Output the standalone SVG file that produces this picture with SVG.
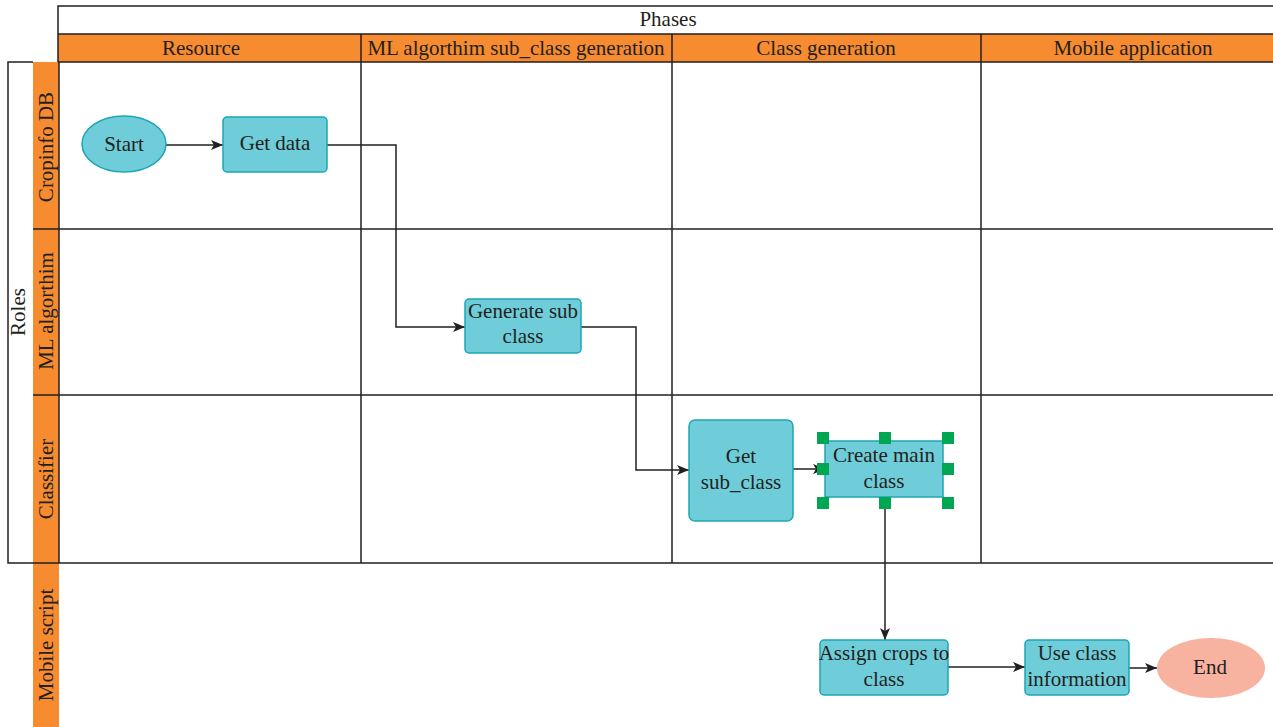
<svg xmlns="http://www.w3.org/2000/svg" width="1273" height="727" viewBox="0 0 1273 727">
<style>
.t{font-family:"Liberation Serif","DejaVu Serif",serif;font-size:21px;fill:#231f20;text-anchor:middle}
.hdr{fill:#f68b2f}
.ln{stroke:#231f20;stroke-width:1.5;fill:none}
.box{fill:#6ecdd9;stroke:#1ba7b5;stroke-width:1.5}
.end{fill:#f8b2a0;stroke:none}
.conn{stroke:#231f20;stroke-width:1.5;fill:none;marker-end:url(#arr)}
.h{fill:#00a651}
</style>
<defs>
<marker id="arr" viewBox="0 0 12 10" refX="12" refY="5" markerWidth="12" markerHeight="10" markerUnits="userSpaceOnUse" orient="auto">
<path d="M0,0 L12,5 L0,10 L3,5 Z" fill="#231f20"/>
</marker>
</defs>
<rect width="1273" height="727" fill="#fff"/>
<g id="frame">
<rect class="hdr" x="58" y="34" width="1215" height="28"/>
<rect class="hdr" x="33" y="62" width="26" height="665"/>
<path class="ln" d="M1273,6 H58 V62"/>
<path class="ln" d="M58,34 H1273 M58,62 H1273"/>
<path class="ln" d="M361,34 V563 M672,34 V563 M981,34 V563"/>
<path class="ln" d="M33,62 H8 V563 H1273"/>
<path class="ln" d="M33,229 H1273 M33,395 H1273"/>
<path class="ln" d="M59,62 V563"/>
<text class="t" x="668" y="26">Phases</text>
<text class="t" x="201" y="55">Resource</text>
<text class="t" x="516" y="55">ML algorthim sub_class generation</text>
<text class="t" x="826" y="55">Class generation</text>
<text class="t" x="1133" y="55">Mobile application</text>
<text class="t" transform="translate(25,312) rotate(-90)">Roles</text>
<text class="t" transform="translate(53,147) rotate(-90)">Cropinfo DB</text>
<text class="t" transform="translate(53,311) rotate(-90)">ML algorthim</text>
<text class="t" transform="translate(53,479) rotate(-90)">Classifier</text>
<text class="t" transform="translate(53,645) rotate(-90)">Mobile script</text>
</g>
<g id="connectors">
<path class="conn" d="M166,145 H223"/>
<path class="conn" d="M327,145 H396 V327 H465"/>
<path class="conn" d="M581,327 H636 V470 H689"/>
<path class="conn" d="M793,469 H825"/>
<path class="conn" d="M885,497 V640"/>
<path class="conn" d="M948,667 H1025"/>
<path class="conn" d="M1129,668 H1157"/>
</g>
<g id="start">
<ellipse class="box" cx="124" cy="144" rx="42" ry="28"/>
<text class="t" x="124" y="151">Start</text>
</g>
<g id="getdata">
<rect class="box" x="223" y="117" width="104" height="55" rx="4"/>
<text class="t" x="275" y="150">Get data</text>
</g>
<g id="gensub">
<rect class="box" x="465" y="299" width="116" height="54" rx="4"/>
<text class="t" x="523" y="318">Generate sub</text>
<text class="t" x="523" y="343">class</text>
</g>
<g id="getsub">
<rect class="box" x="689" y="420" width="104" height="101" rx="6"/>
<text class="t" x="741" y="463">Get</text>
<text class="t" x="741" y="489">sub_class</text>
</g>
<g id="createmain">
<rect class="box" x="825" y="441" width="118" height="56"/>
<text class="t" x="884" y="462">Create main</text>
<text class="t" x="884" y="488">class</text>
<rect class="h" x="817" y="432" width="12" height="12"/>
<rect class="h" x="879" y="432" width="12" height="12"/>
<rect class="h" x="942" y="432" width="12" height="12"/>
<rect class="h" x="942" y="463" width="12" height="12"/>
<rect class="h" x="817" y="463" width="12" height="12"/>
<rect class="h" x="817" y="497" width="12" height="12"/>
<rect class="h" x="879" y="497" width="12" height="12"/>
<rect class="h" x="942" y="497" width="12" height="12"/>
</g>
<g id="assign">
<rect class="box" x="820" y="640" width="128" height="55" rx="4"/>
<text class="t" x="884" y="660">Assign crops to</text>
<text class="t" x="884" y="686">class</text>
</g>
<g id="useclass">
<rect class="box" x="1025" y="640" width="104" height="55" rx="4"/>
<text class="t" x="1077" y="660">Use class</text>
<text class="t" x="1077" y="686">information</text>
</g>
<g id="end">
<ellipse class="end" cx="1211" cy="668" rx="54" ry="30"/>
<text class="t" x="1210" y="674">End</text>
</g>
</svg>
